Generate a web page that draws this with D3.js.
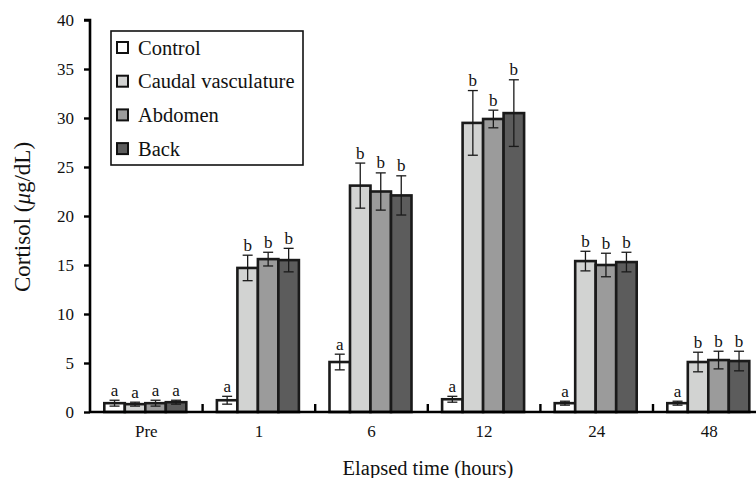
<html>
<head>
<script src="https://d3js.org/d3.v7.min.js"></script>
<style>
  body { margin: 0; background: #fff; }
</style>
</head>
<body>
<div id="graph"></div>
<script>
const times = ['Pre', '1', '6', '12', '24', '48'];
const groups = ['Control', 'Caudal vasculature', 'Abdomen', 'Back'];
const colors = ['#ffffff', '#d2d3d2', '#9b9b9b', '#5c5c5c'];

const control     = [0.9, 1.2, 5.1, 1.3, 0.9, 0.9];
const caudal      = [0.8, 14.7, 23.1, 29.5, 15.4, 5.1];
const abdomen     = [0.9, 15.6, 22.5, 29.9, 15.0, 5.3];
const back        = [1.0, 15.5, 22.1, 30.5, 15.3, 5.2];

const controlErr  = [0.3, 0.4, 0.8, 0.3, 0.2, 0.2];
const caudalErr   = [0.2, 1.3, 2.3, 3.3, 1.0, 1.0];
const abdomenErr  = [0.3, 0.7, 1.9, 0.9, 1.2, 0.9];
const backErr     = [0.2, 1.2, 2.0, 3.4, 1.0, 1.0];

const controlLetters = ['a', 'a', 'a', 'a', 'a', 'a'];
const treatLetters   = ['a', 'b', 'b', 'b', 'b', 'b'];

const yTicks = [0, 5, 10, 15, 20, 25, 30, 35, 40];

const means = [control, caudal, abdomen, back];
const errs = [controlErr, caudalErr, abdomenErr, backErr];
const letters = [controlLetters, treatLetters, treatLetters, treatLetters];

const font = "'Liberation Serif', 'DejaVu Serif', serif";

const data = [];
times.forEach((t, i) => {
  groups.forEach((g, j) => {
    data.push({time: t, group: g, gi: j, v: means[j][i], e: errs[j][i], l: letters[j][i]});
  });
});

const w = 756, h = 478;
const padLeft = 90, axisY = 412, padTop = 20;

const svg = d3.select('#graph').append('svg')
  .attr('width', w).attr('height', h)
  .style('font-family', font);

const x = d3.scaleBand().domain(times).range([padLeft, padLeft + 6 * 112.6]);
const x1 = d3.scaleBand().domain(groups).range([0, 82]);
const y = d3.scaleLinear().domain([0, 40]).range([axisY, padTop]);

const off = (x.bandwidth() - 82) / 2 - 1;

// bars
svg.selectAll('rect.bar')
  .data(data)
  .enter()
  .append('rect')
  .attr('class', 'bar')
  .attr('x', d => x(d.time) + off + x1(d.group))
  .attr('y', d => y(d.v))
  .attr('width', x1.bandwidth())
  .attr('height', d => y(0) - y(d.v))
  .attr('fill', d => colors[d.gi])
  .attr('stroke', '#1a1a1a')
  .attr('stroke-width', 2.6);

// error bars
const eb = svg.append('g').attr('stroke', '#1a1a1a').attr('stroke-width', 1.3);
data.forEach(d => {
  const cx = x(d.time) + off + x1(d.group) + x1.bandwidth() / 2;
  eb.append('line').attr('x1', cx).attr('x2', cx).attr('y1', y(d.v + d.e)).attr('y2', y(d.v - d.e));
  eb.append('line').attr('x1', cx - 5).attr('x2', cx + 5).attr('y1', y(d.v + d.e)).attr('y2', y(d.v + d.e));
  eb.append('line').attr('x1', cx - 5).attr('x2', cx + 5).attr('y1', y(d.v - d.e)).attr('y2', y(d.v - d.e));
});

// letters
svg.selectAll('text.sig')
  .data(data)
  .enter()
  .append('text')
  .attr('class', 'sig')
  .attr('x', d => x(d.time) + off + x1(d.group) + x1.bandwidth() / 2)
  .attr('y', d => y(d.v + d.e) - 4.5)
  .attr('text-anchor', 'middle')
  .attr('fill', '#111')
  .style('font-family', font)
  .style('font-size', '17px')
  .text(d => d.l);

// x axis
svg.append('line')
  .attr('x1', padLeft).attr('x2', w).attr('y1', axisY).attr('y2', axisY)
  .attr('stroke', '#000').attr('stroke-width', 2.6);

svg.selectAll('line.xtick')
  .data(times.slice(1))
  .enter()
  .append('line')
  .attr('x1', d => x(d)).attr('x2', d => x(d))
  .attr('y1', axisY).attr('y2', axisY - 8)
  .attr('stroke', '#000').attr('stroke-width', 2.4);

svg.selectAll('text.xlab')
  .data(times)
  .enter()
  .append('text')
  .attr('x', d => x(d) + x.bandwidth() / 2)
  .attr('y', axisY + 25)
  .attr('text-anchor', 'middle')
  .attr('fill', '#111')
  .style('font-family', font)
  .style('font-size', '17px')
  .text(d => d);

// y axis
const yAxis = d3.axisLeft(y).tickValues(yTicks).tickSize(6).tickPadding(10);
const gy = svg.append('g')
  .attr('transform', 'translate(' + padLeft + ',0)')
  .call(yAxis);
gy.attr('font-family', null);
gy.select('.domain').attr('stroke-width', 2.6).attr('d', 'M-6,' + padTop + 'H0V' + axisY);
gy.selectAll('.tick line').attr('stroke-width', 2.4);
gy.selectAll('.tick text')
  .style('font-size', '17px')
  .style('font-family', font)
  .attr('fill', '#111');

// axis titles
const yl = svg.append('text')
  .attr('transform', 'rotate(-90)')
  .attr('x', -217)
  .attr('y', 30)
  .attr('text-anchor', 'middle')
  .attr('fill', '#111')
  .style('font-family', font)
  .style('font-size', '23px');
yl.append('tspan').text('Cortisol (');
yl.append('tspan').style('font-style', 'italic').text('μ');
yl.append('tspan').text('g/dL)');

svg.append('text')
  .attr('x', 428)
  .attr('y', 475)
  .attr('text-anchor', 'middle')
  .attr('fill', '#111')
  .style('font-family', font)
  .style('font-size', '20.5px')
  .text('Elapsed time (hours)');

// legend
const lg = svg.append('g').attr('transform', 'translate(111,31)');
lg.append('rect')
  .attr('width', 192).attr('height', 134)
  .attr('fill', '#fff').attr('stroke', '#111').attr('stroke-width', 1.6);
const item = lg.selectAll('g.item')
  .data(groups)
  .enter()
  .append('g')
  .attr('transform', (d, i) => 'translate(6,' + (16.5 + i * 33.7) + ')');
item.append('rect')
  .attr('x', 0).attr('y', -5.5)
  .attr('width', 11).attr('height', 11)
  .attr('fill', (d, i) => colors[i])
  .attr('stroke', '#111').attr('stroke-width', 2);
item.append('text')
  .attr('x', 21).attr('y', 7)
  .attr('fill', '#111')
  .style('font-family', font)
  .style('font-size', '20.5px')
  .text(d => d);
</script>
</body>
</html>
